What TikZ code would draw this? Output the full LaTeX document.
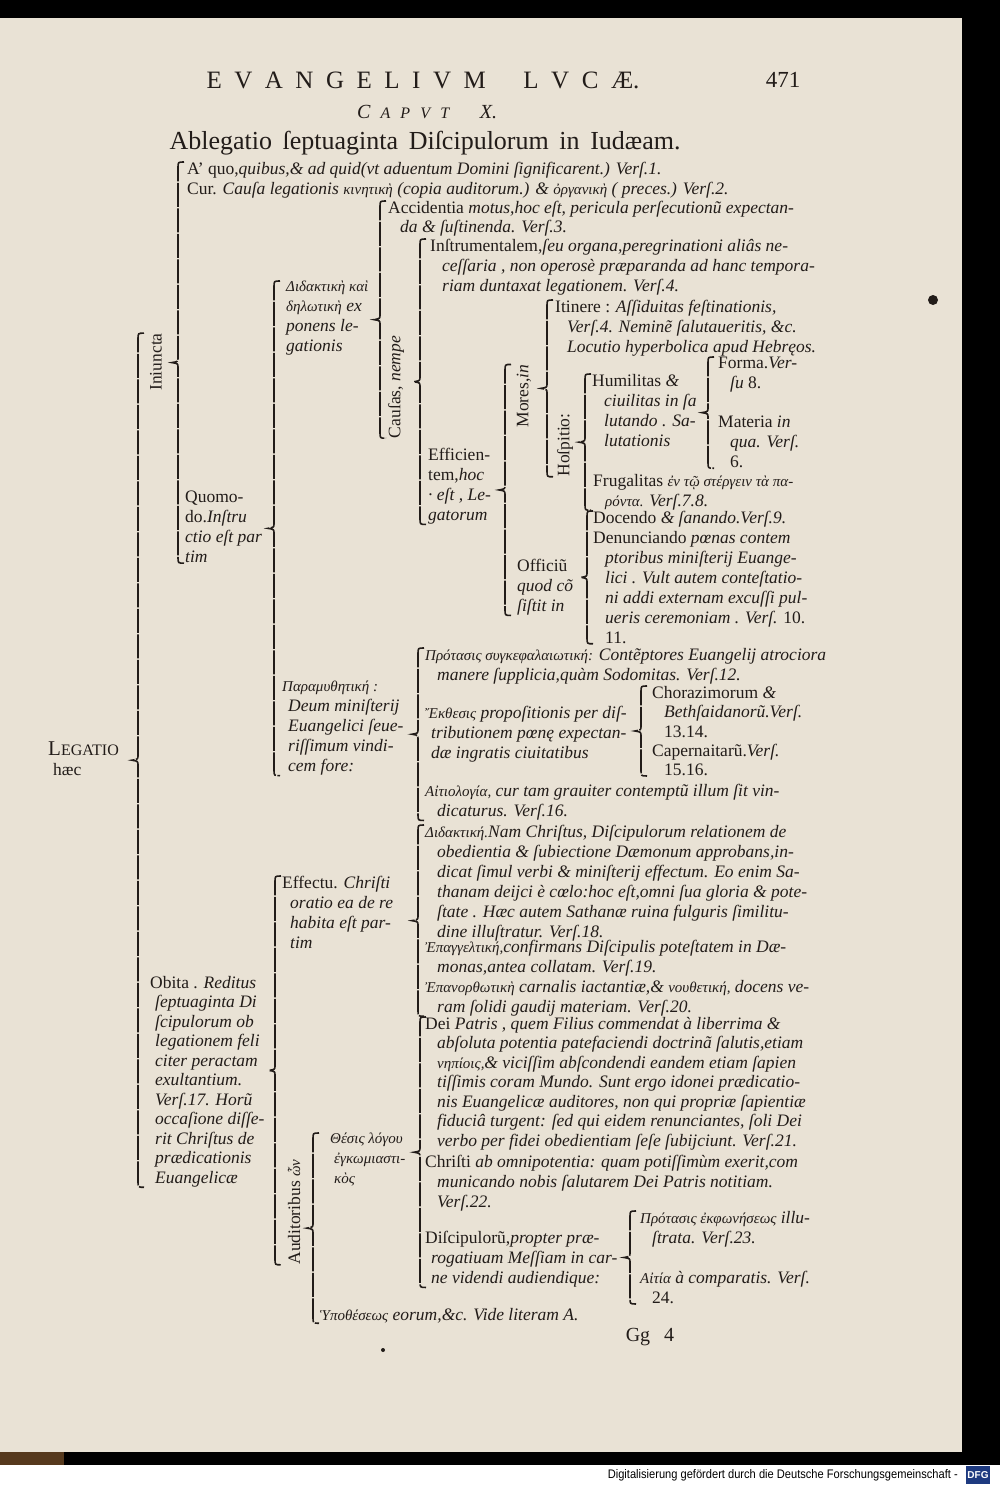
\documentclass[tikz,border=0pt]{standalone}
\usepackage{fontspec}
\setmainfont{Liberation Serif}
\newfontfamily\dfgfont{Liberation Sans}
\usetikzlibrary{calc}
\definecolor{paper}{RGB}{233,226,213}
\definecolor{ink}{RGB}{34,28,25}
\definecolor{dfgblue}{RGB}{30,58,128}
\newcommand\grk[1]{{\fontsize{15}{20}\selectfont\itshape #1}}
\newcommand\ind{\hspace*{12pt}}
% brace from the top of one node to the bottom of another, tip in the middle
\newcommand\bracefor[3]{%
  \draw[bline] let \p1=(#2), \p2=(#3), \n1={0.5*(\y1+\y2)} in
    ({#1+6},\y1) .. controls (#1,\y1) .. (#1,{\y1-6}) -- (#1,{\n1+5})
    .. controls (#1,{\n1+1}) .. ({#1-6},\n1) .. controls (#1,{\n1-1}) .. (#1,{\n1-5})
    -- (#1,{\y2+6}) .. controls (#1,\y2) .. ({#1+6},\y2);}

\begin{document}
\begin{tikzpicture}[x=1pt,y=1pt,
  txt/.style={anchor=north west, inner sep=0pt, align=left, text=ink,
    font=\fontsize{17.5}{20}\selectfont},
  upright/.style={txt, anchor=center, rotate=90},
  bline/.style={draw=ink, line width=1.6pt, dash pattern=on 24pt off 1.5pt}]
\useasboundingbox (0,0) rectangle (1000,-1485);
\fill[black] (0,0) rectangle (1000,-1465);
\fill[white] (0,-1465) rectangle (1000,-1485);
\fill[paper] (0,-18) rectangle (962,-1452);
\fill[brown!45!black] (0,-1452) rectangle (64,-1465);

% heading
\node[text=ink, font=\fontsize{25}{25}\selectfont] (title) at (423,-80)
  {\makebox[433pt][s]{E\hfill V\hfill A\hfill N\hfill G\hfill E\hfill L\hfill I\hfill V\hfill M\hfill\hfill\hfill L\hfill V\hfill C\hfill Æ.}};
\node[text=ink, font=\fontsize{23}{23}\selectfont] (pnum) at (783,-80) {471};
\node[text=ink, font=\itshape\fontsize{16}{16}\selectfont] (caput) at (427,-112)
  {\makebox[140pt][s]{{\fontsize{20}{20}\selectfont C}\hfill A\hfill P\hfill V\hfill T\hfill\hfill\hfill{\fontsize{20}{20}\selectfont X.}}};
\node[text=ink, font=\fontsize{26}{26}\selectfont] (ableg) at (425,-143)
  {\makebox[511pt][s]{Ablegatio ſeptuaginta Diſcipulorum in Iudæam.}};

% first part
\node[txt] (legatio) at (48,-742) {{\fontsize{21}{20}\selectfont L}{\fontsize{16}{20}\selectfont EGATIO}\\\hspace*{5pt}hæc};
\node[upright] (iniuncta) at (156,-362) {Iniuncta};
\node[txt] (aquo) at (187,-162) {A' quo,\textit{quibus,\& ad quid(vt aduentum Domini ſignificarent.) Verſ.1.}};
\node[txt] (cur) at (187,-182) {Cur. \textit{Cauſa legationis} \grk{κινητικὴ} \textit{(copia auditorum.) \& }\grk{ὀργανικὴ} \textit{( preces.) Verſ.2.}};
\node[txt] (quomodo) at (185,-491) {Quomo-\\do.\textit{Inſtru}\\\textit{ctio eſt par}\\\textit{tim}};
\node[txt] (didak1) at (286,-281) {\grk{Διδακτικὴ καὶ}\\\grk{δηλωτικὴ} \textit{ex}\\\textit{ponens le-}\\\textit{gationis}};
\node[txt, font=\fontsize{17.5}{18.5}\selectfont] (accid) at (388,-201) {Accidentia \textit{motus,hoc eſt, pericula perſecutionũ expectan-}\\\ind\textit{da \& ſuſtinenda. Verſ.3.}};
\node[upright] (causas) at (396,-387) {Cauſas, \textit{nempe}};
\node[txt] (instr) at (430,-239) {Inſtrumentalem,\textit{ſeu organa,peregrinationi aliâs ne-}\\\ind\textit{ceſſaria , non operosè præparanda ad hanc tempora-}\\\ind\textit{riam duntaxat legationem. Verſ.4.}};
\node[txt] (effic) at (428,-448) {Efficien-\\tem,\textit{hoc}\\\textit{· eſt , Le-}\\\textit{gatorum}};
\node[upright] (mores) at (524,-396) {Mores,\textit{in}};
\node[txt] (itin) at (555,-300) {Itinere : \textit{Aſſiduitas feſtinationis,}\\\ind\textit{Verſ.4. Neminẽ ſalutaueritis, \&c.}\\\ind\textit{Locutio hyperbolica apud Hebręos.}};
\node[upright] (hosp) at (565,-445) {Hoſpitio:};
\node[txt] (humil) at (592,-374) {Humilitas \textit{\&}\\\ind\textit{ciuilitas in ſa}\\\ind\textit{lutando . Sa-}\\\ind\textit{lutationis}};
\node[txt] (forma) at (718,-357) {Forma.\textit{Ver-}\\\ind\textit{ſu} 8.};
\node[txt] (materia) at (718,-416) {Materia \textit{in}\\\ind\textit{qua. Verſ.}\\\ind 6.};
\node[txt] (frug) at (593,-474) {Frugalitas \grk{ἐν τῷ στέργειν τὰ πα-}\\\ind\grk{ρόντα.} \textit{Verſ.7.8.}};
\node[txt] (officiu) at (517,-559) {Officiũ\\\textit{quod cõ}\\\textit{ſiſtit in}};
\node[txt] (docendo) at (593,-511) {Docendo \textit{\& ſanando.Verſ.9.}};
\node[txt] (denun) at (593,-531) {Denunciando \textit{pœnas contem}\\\ind\textit{ptoribus miniſterij Euange-}\\\ind\textit{lici . Vult autem conteſtatio-}\\\ind\textit{ni addi externam excuſſi pul-}\\\ind\textit{ueris ceremoniam . Verſ.} 10.\\\ind 11.};
\node[txt] (param) at (282,-681) {\grk{Παραμυθητική :}\\\hspace*{6pt}\textit{Deum miniſterij}\\\hspace*{6pt}\textit{Euangelici ſeue-}\\\hspace*{6pt}\textit{riſſimum vindi-}\\\hspace*{6pt}\textit{cem fore:}};
\node[txt] (prot) at (425,-648) {\grk{Πρότασις συγκεφαλαιωτική:} \textit{Contẽptores Euangelij atrociora}\\\ind\textit{manere ſupplicia,quàm Sodomitas. Verſ.12.}};
\node[txt] (ekth) at (425,-706) {\grk{Ἔκθεσις} \textit{propoſitionis per diſ-}\\\hspace*{6pt}\textit{tributionem pœnę expectan-}\\\hspace*{6pt}\textit{dæ ingratis ciuitatibus}};
\node[txt, font=\fontsize{17.5}{19.5}\selectfont] (chor) at (652,-686) {Chorazimorum \textit{\&}\\\ind\textit{Bethſaidanorũ.Verſ.}\\\ind 13.14.};
\node[txt, font=\fontsize{17.5}{19}\selectfont] (caper) at (652,-744) {Capernaitarũ.\textit{Verſ.}\\\ind 15.16.};
\node[txt] (aitio) at (425,-784) {\grk{Αἰτιολογία,} \textit{cur tam grauiter contemptũ illum ſit vin-}\\\ind\textit{dicaturus. Verſ.16.}};

% second part
\node[txt, font=\fontsize{17.5}{19.5}\selectfont] (obita) at (150,-976) {Obita . \textit{Reditus}\\\hspace*{5pt}\textit{ſeptuaginta Di}\\\hspace*{5pt}\textit{ſcipulorum ob}\\\hspace*{5pt}\textit{legationem feli}\\\hspace*{5pt}\textit{citer peractam}\\\hspace*{5pt}\textit{exultantium.}\\\hspace*{5pt}\textit{Verſ.17. Horũ}\\\hspace*{5pt}\textit{occaſione diſſe-}\\\hspace*{5pt}\textit{rit Chriſtus de}\\\hspace*{5pt}\textit{prædicationis}\\\hspace*{5pt}\textit{Euangelicæ}};
\node[txt] (effectu) at (282,-876) {Effectu. \textit{Chriſti}\\\hspace*{8pt}\textit{oratio ea de re}\\\hspace*{8pt}\textit{habita eſt par-}\\\hspace*{8pt}\textit{tim}};
\node[txt] (didak2) at (425,-825) {\grk{Διδακτική.}\textit{Nam Chriſtus, Diſcipulorum relationem de}\\\ind\textit{obedientia \& ſubiectione Dæmonum approbans,in-}\\\ind\textit{dicat ſimul verbi \& miniſterij effectum. Eo enim Sa-}\\\ind\textit{thanam deijci è cœlo:hoc eſt,omni ſua gloria \& pote-}\\\ind\textit{ſtate . Hæc autem Sathanæ ruina fulguris ſimilitu-}\\\ind\textit{dine illuſtratur. Verſ.18.}};
\node[txt] (epang) at (425,-940) {\grk{Ἐπαγγελτική,}\textit{confirmans Diſcipulis poteſtatem in Dæ-}\\\ind\textit{monas,antea collatam. Verſ.19.}};
\node[txt] (epan) at (425,-980) {\grk{Ἐπανορθωτικὴ} \textit{carnalis iactantiæ,\& }\grk{νουθετική,} \textit{docens ve-}\\\ind\textit{ram ſolidi gaudij materiam. Verſ.20.}};
\node[upright] (audit) at (294,-1212) {Auditoribus \grk{ὧν}};
\node[txt] (theta) at (330,-1133) {\grk{Θέσις λόγου}\\\hspace*{4pt}\grk{ἐγκωμιαστι-}\\\hspace*{4pt}\grk{κὸς}};
\node[txt, font=\fontsize{17.5}{19.5}\selectfont] (dei) at (425,-1017) {Dei \textit{Patris , quem Filius commendat à liberrima \&}\\\ind\textit{abſoluta potentia patefaciendi doctrinã ſalutis,etiam}\\\ind\grk{νηπίοις,}\textit{\& viciſſim abſcondendi eandem etiam ſapien}\\\ind\textit{tiſſimis coram Mundo. Sunt ergo idonei prædicatio-}\\\ind\textit{nis Euangelicæ auditores, non qui propriæ ſapientiæ}\\\ind\textit{fiduciâ turgent: ſed qui eidem renunciantes, ſoli Dei}\\\ind\textit{verbo per fidei obedientiam ſeſe ſubijciunt. Verſ.21.}};
\node[txt] (christi) at (425,-1155) {Chriſti \textit{ab omnipotentia: quam potiſſimùm exerit,com}\\\ind\textit{municando nobis ſalutarem Dei Patris notitiam.}\\\ind\textit{Verſ.22.}};
\node[txt] (disc) at (425,-1231) {Diſcipulorũ,\textit{propter præ-}\\\hspace*{6pt}\textit{rogatiuam Meſſiam in car-}\\\hspace*{6pt}\textit{ne videndi audiendique:}};
\node[txt] (protek) at (640,-1211) {\grk{Πρότασις ἐκφωνήσεως} \textit{illu-}\\\ind\textit{ſtrata. Verſ.23.}};
\node[txt] (aitia) at (640,-1271) {\grk{Αἰτία} \textit{à comparatis. Verſ.}\\\ind 24.};
\node[txt] (hypo) at (320,-1308) {\grk{Ὑποθέσεως} \textit{eorum,\&c. Vide literam A.}};

% braces
\bracefor{138}{iniuncta.east}{obita.south}
\bracefor{178}{aquo.north}{quomodo.south}
\bracefor{274}{didak1.north}{param.south}
\bracefor{380}{accid.north}{causas.west}
\bracefor{420}{instr.north}{effic.south}
\bracefor{505}{mores.east}{officiu.south}
\bracefor{547}{itin.north}{hosp.west}
\bracefor{585}{humil.north}{frug.south}
\bracefor{708}{forma.north}{materia.south}
\bracefor{587}{docendo.north}{denun.south}
\bracefor{418}{prot.north}{aitio.south}
\bracefor{641}{chor.north}{caper.south}
\bracefor{275}{effectu.north}{audit.west}
\bracefor{418}{didak2.north}{epan.south}
\bracefor{313}{theta.north}{hypo.south}
\bracefor{420}{dei.north}{disc.south}
\bracefor{630}{protek.north}{aitia.south}

% foot of the page
\node[text=ink, font=\fontsize{20}{20}\selectfont] (sig) at (650,-1337) {Gg\hspace{14pt}4};
\fill[ink] (383,-1350) circle (2pt);
\fill[ink] (933,-300) circle (5pt);
\node[anchor=east, inner sep=0pt, font=\dfgfont] (dfgtext) at (958,-1475)
  {\resizebox{350pt}{9pt}{Digitalisierung gefördert durch die Deutsche Forschungsgemeinschaft -}};
\node[fill=dfgblue, text=white, font=\dfgfont\bfseries\fontsize{10}{10}\selectfont,
  minimum width=24pt, minimum height=18pt, inner sep=0pt] (dfg) at (978,-1475) {DFG};
\end{tikzpicture}
\end{document}
